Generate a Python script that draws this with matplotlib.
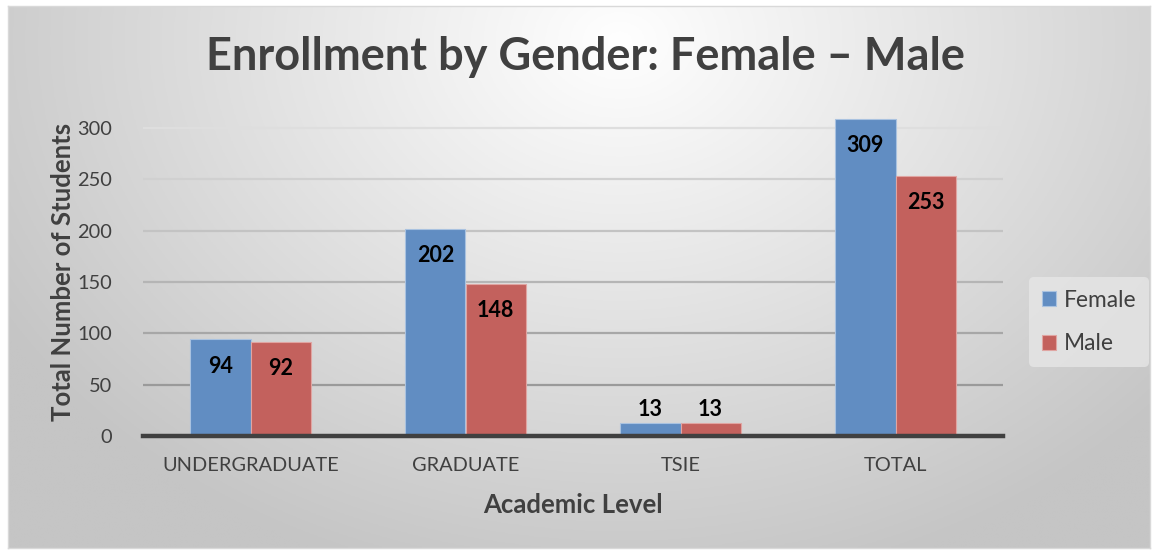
import matplotlib
matplotlib.use("Agg")
import matplotlib.pyplot as plt
import numpy as np

# data
categories = ["UNDERGRADUATE", "GRADUATE", "TSIE", "TOTAL"]
female = [94, 202, 13, 309]
male = [92, 148, 13, 253]
yticks = [0, 50, 100, 150, 200, 250, 300]

plt.rcParams['font.family'] = ['Lato', 'DejaVu Sans']
W, H = 1154, 550
fig = plt.figure(figsize=(W / 100, H / 100), dpi=100)
fig.patch.set_facecolor("white")

# chart area with radial gradient background
x0, y0, x1, y1 = 8, 6, 1150, 548
bg = fig.add_axes([x0 / W, 1 - y1 / H, (x1 - x0) / W, (y1 - y0) / H])
gx, gy = np.meshgrid(np.linspace(x0, x1, 400), np.linspace(y0, y1, 200))
d = np.sqrt(((gx - 620) / 720) ** 2 + ((gy - 40) / 560) ** 2)
shade = 255 - 58 * np.clip(d, 0, 1)
img = np.dstack([shade, shade, shade]) / 255
bg.imshow(img, aspect="auto", extent=[0, 1, 0, 1], origin="upper")
bg.set_xlim(0, 1)
bg.set_ylim(0, 1)
bg.set_xticks([])
bg.set_yticks([])
for s in bg.spines.values():
    s.set_color("#d9d9d9")
    s.set_linewidth(1)

# plot area
left, right = 143 / W, 1003 / W
ymax = 320
px_per_unit = (436 - 128) / 300
top_px = 436 - ymax * px_per_unit
ax = fig.add_axes([left, (H - 436) / H, right - left, (436 - top_px) / H])
ax.set_facecolor("none")

x = np.arange(len(categories))
w = 0.28
b1 = ax.bar(x - w / 2, female, w, color="#618dc2", edgecolor="#a9c2e0", linewidth=0.8, zorder=3, label="Female")
b2 = ax.bar(x + w / 2, male, w, color="#c3615d", edgecolor="#e0a5a2", linewidth=0.8, zorder=3, label="Male")

ax.set_xlim(-0.5, len(categories) - 0.5)
ax.set_ylim(0, ymax)
ax.set_yticks(yticks)
ax.set_xticks(x)
ax.set_xticklabels(categories)
ax.tick_params(axis="both", length=0, labelsize=14.4, colors="#404040")
ax.tick_params(axis="x", pad=15)
ax.tick_params(axis="y", pad=22)

# gridlines, darker toward the bottom
for t in yticks[1:]:
    frac = t / 300
    g = 0.55 + 0.32 * frac
    ax.axhline(t, color=(g, g, g), linewidth=1.6, zorder=1)

for s in ["top", "right", "left"]:
    ax.spines[s].set_visible(False)
ax.spines["bottom"].set_color("#404040")
ax.spines["bottom"].set_linewidth(3.2)
ax.spines["bottom"].set_zorder(4)

# data labels
for bars, vals in [(b1, female), (b2, male)]:
    for r, v in zip(bars, vals):
        cx = r.get_x() + r.get_width() / 2
        if v < 30:
            ax.text(cx, v + 3, str(v), ha="center", va="bottom", fontsize=15.5, fontweight="bold", color="black", zorder=5)
        else:
            ax.text(cx, v - 26, str(v), ha="center", va="center", fontsize=15.5, fontweight="bold", color="black", zorder=5)

ax.set_xlabel("Academic Level", fontsize=18.5, fontweight="bold", color="#404040", labelpad=14)
ax.set_ylabel("Total Number of Students", fontsize=18.5, fontweight="bold", color="#404040", labelpad=2)

fig.text(585 / W, 1 - 57 / H, "Enrollment by Gender: Female \u2013 Male", ha="center", va="center",
         fontsize=32.5, fontweight="bold", color="#404040")

leg = fig.legend(handles=[b1, b2], loc="center", bbox_to_anchor=(1089 / W, 1 - 322 / H),
                 fontsize=16.4, frameon=True, handlelength=0.6, handleheight=0.6,
                 handletextpad=0.35, labelspacing=1.0, borderpad=0.55)
leg.get_frame().set_facecolor("#e6e6e6")
leg.get_frame().set_edgecolor("none")
leg.get_frame().set_alpha(0.8)
for t in leg.get_texts():
    t.set_color("#404040")

fig.savefig("out.png", dpi=100)
